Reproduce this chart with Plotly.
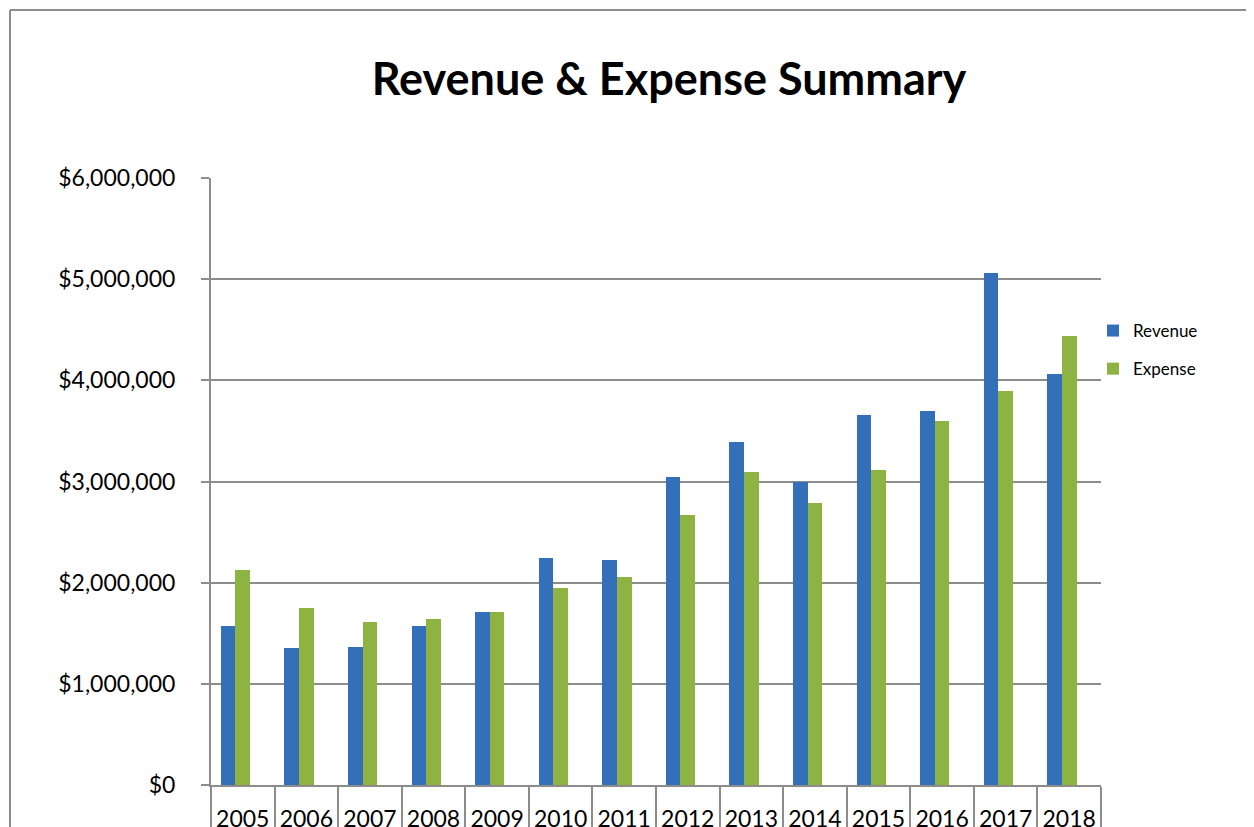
import plotly.graph_objects as go

years = ["2005", "2006", "2007", "2008", "2009", "2010", "2011",
         "2012", "2013", "2014", "2015", "2016", "2017", "2018"]
revenue = [1570000, 1354000, 1364000, 1571000, 1710000, 2243000, 2223000,
           3043000, 3389000, 2994000, 3656000, 3696000, 5059000, 4061000]
expense = [2125000, 1749000, 1611000, 1640000, 1710000, 1947000, 2055000,
           2668000, 3093000, 2787000, 3113000, 3597000, 3893000, 4437000]
y_ticks = [0, 1000000, 2000000, 3000000, 4000000, 5000000, 6000000]
y_tick_text = ["$0", "$1,000,000", "$2,000,000", "$3,000,000",
               "$4,000,000", "$5,000,000", "$6,000,000"]

# page body has an 8px margin; work in reference pixel coords minus that offset
OFF = 8
W, H = 1254 - OFF, 827 - OFF
L, R, T, B = 211 - OFF, 1101 - OFF, 178 - OFF, 785 - OFF

xpos = list(range(len(years)))

fig = go.Figure()
fig.add_trace(go.Bar(x=xpos, y=revenue, name="Revenue", width=0.23, offset=-0.345,
                     marker=dict(color="#3470BA", line=dict(width=0)),
                     legendgroup="r"))
fig.add_trace(go.Bar(x=xpos, y=expense, name="Expense", width=0.23, offset=-0.115,
                     marker=dict(color="#8DB443", line=dict(width=0)),
                     legendgroup="e"))

gray = "#8C8C8C"
fig.update_layout(
    width=W, height=H,
    margin=dict(l=L, r=W - R, t=T, b=H - B, autoexpand=False),
    paper_bgcolor="white", plot_bgcolor="white",
    font=dict(family="Lato, Carlito, sans-serif", color="black"),
    title=dict(text="<b>Revenue & Expense Summary</b>", x=(669 - OFF) / W, xanchor="center",
               y=1 - (79 - OFF) / H, yanchor="middle",
               font=dict(size=45, family="Lato, sans-serif", color="black")),
    showlegend=True,
    legend=dict(x=(1093 - 211) / (1101 - 211), xanchor="left",
                y=(785 - 313) / (785 - 178), yanchor="top",
                font=dict(size=17), tracegroupgap=13, traceorder="grouped",
                bgcolor="rgba(0,0,0,0)"),
    bargap=0, barmode="overlay",
)
fig.update_xaxes(
    type="linear", range=[-0.5, len(years) - 0.5],
    tickvals=xpos, ticktext=years, ticks="", ticklen=0,
    tickfont=dict(size=23), ticklabelstandoff=12,
    showgrid=False, zeroline=False, showline=True, linecolor=gray, linewidth=2,
    minor=dict(ticks="outside", tick0=0.5, dtick=1, ticklen=50, tickcolor=gray, tickwidth=2),
    fixedrange=True,
)
fig.update_yaxes(
    range=[0, 6000000], tickvals=y_ticks, ticktext=y_tick_text,
    ticks="outside", ticklen=8, tickcolor=gray, tickwidth=2,
    tickfont=dict(size=23), ticklabelstandoff=21,
    showgrid=True, gridcolor=gray, gridwidth=2, zeroline=False,
    showline=True, linecolor=gray, linewidth=2,
)

# outer chart frame (left and top edges visible)
px_x = lambda px: (px - OFF - L) / (R - L)
px_y = lambda py: (B - (py - OFF)) / (B - T)
fig.add_shape(type="line", xref="paper", yref="paper", x0=px_x(10), x1=px_x(10),
              y0=px_y(900), y1=px_y(10), line=dict(color=gray, width=2))
fig.add_shape(type="line", xref="paper", yref="paper", x0=px_x(10), x1=px_x(1300),
              y0=px_y(10), y1=px_y(10), line=dict(color=gray, width=2))

fig.write_html("out.html")
